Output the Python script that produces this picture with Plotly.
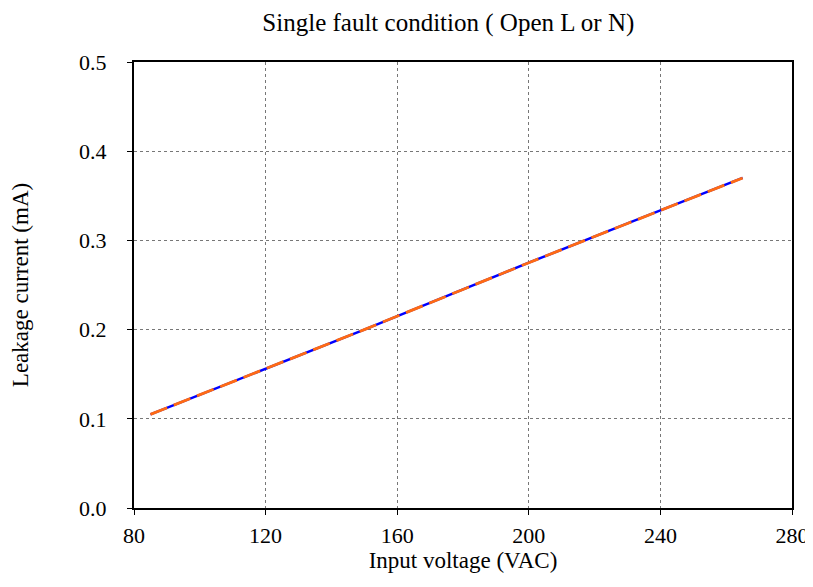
import plotly.graph_objects as go

voltage = [85, 100, 115, 132, 150, 180, 200, 230, 265]
leak_a = [0.105, 0.127, 0.149, 0.174, 0.200, 0.245, 0.275, 0.319, 0.370]
leak_b = [0.105, 0.127, 0.149, 0.174, 0.200, 0.245, 0.275, 0.319, 0.370]

x_ticks = [80, 120, 160, 200, 240, 280]
y_ticks = [0.0, 0.1, 0.2, 0.3, 0.4, 0.5]

fig = go.Figure()
fig.add_trace(go.Scatter(x=voltage, y=leak_a, mode="lines",
                         line=dict(color="#0000FF", width=2.5), showlegend=False))
fig.add_trace(go.Scatter(x=voltage, y=leak_b, mode="lines",
                         line=dict(color="#FF6A13", width=2.8, dash="18px,7px"), showlegend=False))

font = "Liberation Serif, Times New Roman, serif"
fig.update_layout(
    width=805, height=565,
    margin=dict(l=126, r=21, t=54, b=65),
    paper_bgcolor="white", plot_bgcolor="white",
    font=dict(family=font, color="black", size=22),
    title=dict(text="Single fault condition ( Open L or N)", x=0.547, xanchor="center",
               y=0.975, yanchor="middle", font=dict(size=25, family=font)),
)
fig.update_xaxes(range=[80, 280], tickvals=x_ticks, ticktext=[str(v) for v in x_ticks],
                 showline=True, linewidth=2, linecolor="black", mirror=True,
                 ticks="outside", ticklen=5, tickcolor="black", ticklabelstandoff=2,
                 ticklabeloverflow="allow", automargin=False,
                 showgrid=True, gridcolor="#777777", griddash="dot", gridwidth=1,
                 zeroline=False,
                 title=dict(text="Input voltage (VAC)", font=dict(size=23), standoff=10))
fig.update_yaxes(range=[0, 0.5], tickvals=y_ticks, ticktext=[f"{v:.1f}" for v in y_ticks],
                 showline=True, linewidth=2, linecolor="black", mirror=True,
                 ticks="outside", ticklen=5, tickcolor="black", ticklabelstandoff=16,
                 automargin=False,
                 showgrid=True, gridcolor="#777777", griddash="dot", gridwidth=1,
                 zeroline=False,
                 title=dict(text="Leakage current (mA)", font=dict(size=23), standoff=46))
fig.write_html("out.html")
